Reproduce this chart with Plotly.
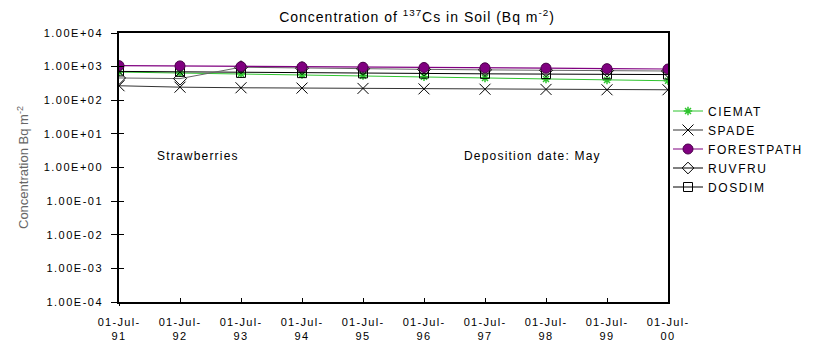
import plotly.graph_objects as go

# Sampling dates (1 July of each year)
dates = ["01-Jul-91", "01-Jul-92", "01-Jul-93", "01-Jul-94", "01-Jul-95",
         "01-Jul-96", "01-Jul-97", "01-Jul-98", "01-Jul-99", "01-Jul-00"]
years = ["91", "92", "93", "94", "95", "96", "97", "98", "99", "00"]

# 137Cs soil concentration predicted by each model (Bq m-2)
ciemat = [690, 650, 610, 580, 540, 500, 460, 430, 400, 380]
spade = [270, 245, 235, 230, 225, 218, 213, 210, 205, 205]
forestpath = [1070, 1050, 1000, 980, 960, 940, 920, 900, 870, 850]
ruvfru = [460, 440, 960, 900, 860, 830, 800, 780, 760, 740]
dosdim = [720, 700, 650, 640, 630, 620, 610, 600, 590, 580]

y_tickvals = [1e4, 1e3, 1e2, 1e1, 1e0, 1e-1, 1e-2, 1e-3, 1e-4]
y_ticktext = ["1.00E+04", "1.00E+03", "1.00E+02", "1.00E+01", "1.00E+00",
              "1.00E-01", "1.00E-02", "1.00E-03", "1.00E-04"]

FONT = "Liberation Sans, Arial, sans-serif"
W, H = 816, 342
ML, MR, MT, MB = 119, 148, 33, 40


def spaced(text, px=1.0):
    """Wrap a label in a span with extra letter spacing."""
    return f'<span style="letter-spacing:{px}px">{text}</span>'


def paper_xy(px, py):
    """Pixel position on the page -> paper coordinates of the plot area."""
    return ((px - ML) / (W - ML - MR), 1 - (py - MT) / (H - MT - MB))


date_labels = [spaced("01-Jul-", 1.3) + "<br>" + spaced(y, 1.3) for y in years]

fig = go.Figure()

fig.add_trace(go.Scatter(
    x=dates, y=ciemat, name=spaced("CIEMAT", 1.6), mode="lines+markers",
    line=dict(color="#2fc42f", width=1),
    marker=dict(symbol="asterisk-open", size=7, color="#2fc42f",
                line=dict(color="#2fc42f", width=1.5))))
fig.add_trace(go.Scatter(
    x=dates, y=spade, name=spaced("SPADE", 1.6), mode="lines+markers",
    line=dict(color="#333333", width=1),
    marker=dict(symbol="x-thin-open", size=11, color="black",
                line=dict(color="black", width=1))))
fig.add_trace(go.Scatter(
    x=dates, y=dosdim, name="DOSDIM", mode="lines+markers",
    line=dict(color="black", width=1),
    marker=dict(symbol="square-open", size=9, color="black",
                line=dict(color="black", width=1)),
    showlegend=False))
fig.add_trace(go.Scatter(
    x=dates, y=ruvfru, name="RUVFRU", mode="lines+markers",
    line=dict(color="#666666", width=1),
    marker=dict(symbol="diamond-open", size=10, color="black",
                line=dict(color="black", width=1)),
    showlegend=False))
fig.add_trace(go.Scatter(
    x=dates, y=forestpath, name=spaced("FORESTPATH", 1.6), mode="lines+markers",
    line=dict(color="#800080", width=1.2),
    marker=dict(symbol="circle", size=10, color="#800080",
                line=dict(color="#4a004a", width=1))))

# Legend-only entries, so the legend keeps the model order
fig.add_trace(go.Scatter(
    x=[None], y=[None], name=spaced("RUVFRU", 1.6), mode="lines+markers",
    line=dict(color="black", width=1),
    marker=dict(symbol="diamond-open", size=9, color="black",
                line=dict(color="black", width=1))))
fig.add_trace(go.Scatter(
    x=[None], y=[None], name=spaced("DOSDIM", 1.6), mode="lines+markers",
    line=dict(color="black", width=1),
    marker=dict(symbol="square-open", size=9, color="black",
                line=dict(color="black", width=1))))

# an invisible point ties the second axis pair (outer half of crossing ticks)
fig.add_trace(go.Scatter(x=[dates[0]], y=[1], xaxis="x2", yaxis="y2",
                         mode="markers", marker=dict(opacity=0),
                         showlegend=False, hoverinfo="skip"))

sx, sy = paper_xy(155, 156)
dx, dy = paper_xy(603, 156)

fig.update_layout(
    width=W, height=H,
    margin=dict(l=ML, r=MR, t=MT, b=MB, autoexpand=False),
    paper_bgcolor="white", plot_bgcolor="white",
    font=dict(family=FONT, size=12, color="black"),
    title=dict(
        text=spaced("Concentration of <sup>137</sup>Cs in Soil (Bq m<sup>-2</sup>)", 1.0),
        x=417 / W, xref="container", xanchor="center",
        y=1 - 17 / H, yref="container", yanchor="middle",
        font=dict(family=FONT, size=14, color="black")),
    showlegend=True,
    legend=dict(
        x=668 / W, xref="container", xanchor="left",
        y=1 - 149 / H, yref="container", yanchor="middle",
        font=dict(family=FONT, size=12, color="black"),
        itemwidth=30, tracegroupgap=0, bgcolor="rgba(0,0,0,0)"),
    annotations=[
        dict(text=spaced("Strawberries", 1.2), x=sx, y=sy,
             xref="paper", yref="paper", xanchor="left", yanchor="middle",
             showarrow=False, font=dict(family=FONT, size=12, color="black")),
        dict(text=spaced("Deposition date: May", 1.2), x=dx, y=dy,
             xref="paper", yref="paper", xanchor="right", yanchor="middle",
             showarrow=False, font=dict(family=FONT, size=12, color="black")),
    ],
    xaxis=dict(
        type="category", range=[0, 9],
        tickvals=dates, ticktext=date_labels,
        showline=True, linecolor="black", linewidth=1.5, mirror=True,
        ticks="inside", ticklen=4, tickcolor="black",
        ticklabelstandoff=9,
        showgrid=False, zeroline=False,
        tickfont=dict(family=FONT, size=11, color="black")),
    yaxis=dict(
        type="log", range=[-4, 4],
        tickvals=y_tickvals, ticktext=[spaced(t, 1.5) for t in y_ticktext],
        showline=True, linecolor="black", linewidth=1.5, mirror=True,
        ticks="outside", ticklen=6, tickcolor="black",
        ticklabelstandoff=6,
        showgrid=False, zeroline=False,
        tickfont=dict(family=FONT, size=11, color="black"),
        title=dict(text="Concentration Bq m<sup>-2</sup>", standoff=12,
                   font=dict(family=FONT, size=13, color="#666666"))),
    xaxis2=dict(type="category", range=[0, 9], overlaying="x", anchor="y",
                side="bottom", tickvals=dates, ticks="outside", ticklen=3,
                tickcolor="black", showticklabels=False, showline=False,
                showgrid=False, zeroline=False),
    yaxis2=dict(type="log", range=[-4, 4], overlaying="y", anchor="x",
                side="left", tickvals=y_tickvals, ticks="inside", ticklen=5,
                tickcolor="black", showticklabels=False, showline=False,
                showgrid=False, zeroline=False),
)

fig.write_html("out.html")
